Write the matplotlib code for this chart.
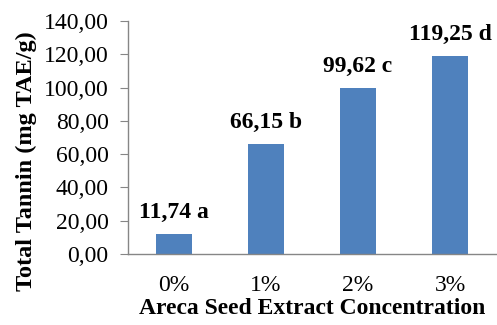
import matplotlib.pyplot as plt
from matplotlib.ticker import FuncFormatter

concentrations = ["0%", "1%", "2%", "3%"]
tannin = [11.74, 66.15, 99.62, 119.25]
letters = ["a", "b", "c", "d"]

plt.rcParams['font.family'] = ['Liberation Serif', 'DejaVu Serif']

fig = plt.figure(figsize=(4.97, 3.25), dpi=100)
ax = fig.add_axes([0.2575, 0.2185, 0.7405, 0.7165])

x = range(len(concentrations))
ax.bar(x, tannin, width=0.4, color='#4F81BD')

# value + significance letter above each bar, decimal comma
for i, v in enumerate(tannin):
    lbl = f"{v:.2f}".replace('.', ',') + " " + letters[i]
    ax.annotate(lbl, (i, v), xytext=(0, 8), textcoords='offset points',
                ha='center', va='bottom', fontsize=17, fontweight='bold')

ax.set_xlim(-0.5, 3.5)
ax.set_ylim(0, 140)
ax.set_yticks(range(0, 141, 20))
ax.yaxis.set_major_formatter(FuncFormatter(lambda v, p: f"{v:.2f}".replace('.', ',')))
ax.set_xticks(list(x))
ax.set_xticklabels(concentrations)

for s in ['top', 'right']:
    ax.spines[s].set_visible(False)
for s in ['left', 'bottom']:
    ax.spines[s].set_color('#868686')
    ax.spines[s].set_linewidth(1.0)

ax.tick_params(axis='y', length=6, color='#868686', labelsize=17, pad=8)
ax.tick_params(axis='x', length=0, labelsize=17, pad=15)

ax.set_ylabel("Total Tannin (mg TAE/g)", fontsize=17.5, fontweight='bold')
ax.yaxis.set_label_coords(-0.247, 0.40)
ax.set_xlabel("Areca Seed Extract Concentration", fontsize=17, fontweight='bold')
ax.xaxis.set_label_coords(0.5, -0.19)

fig.savefig("out.png", dpi=100)
